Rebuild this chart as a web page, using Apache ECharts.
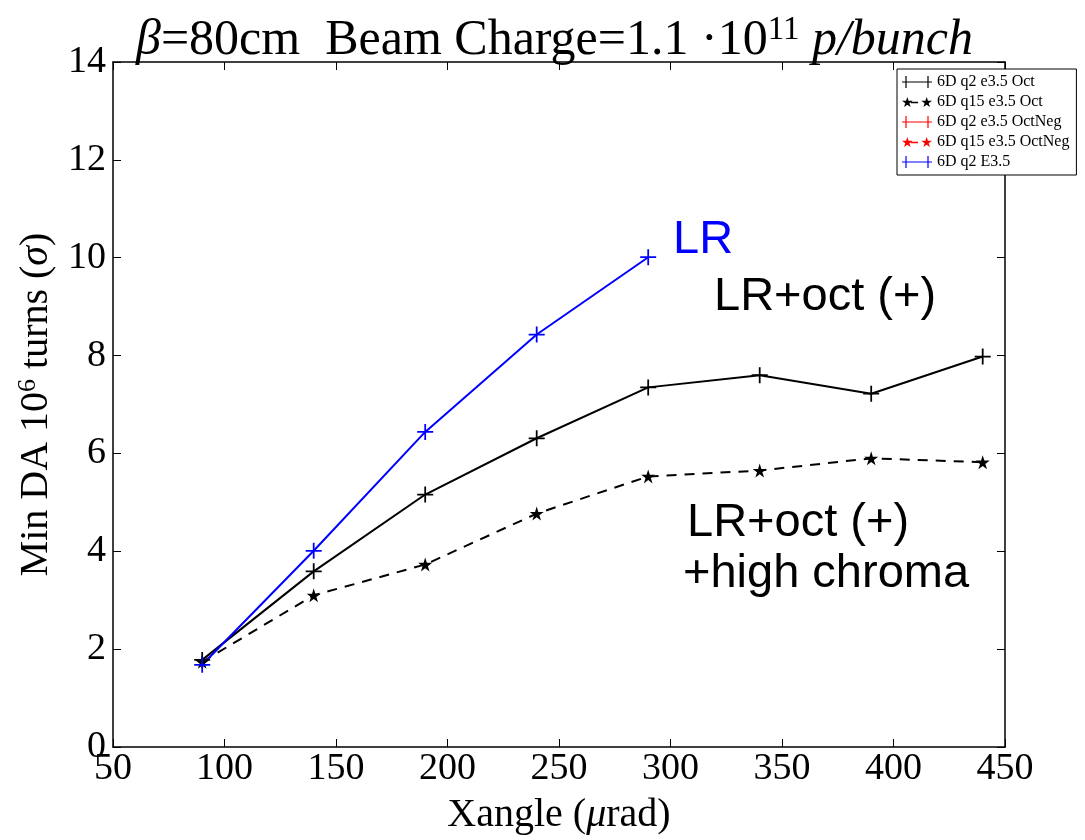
<!DOCTYPE html>
<html>
<head>
<meta charset="utf-8">
<script src="https://cdn.jsdelivr.net/npm/echarts@6/dist/echarts.min.js"></script>
<style>
  html, body { margin: 0; padding: 0; background: #fff; }
  #chart { width: 1085px; height: 840px; }
</style>
</head>
<body>
<div id="chart"></div>
<script>
// data
const xangle = [90, 140, 190, 240, 290, 340, 390, 440]
const octQ2 = [1.78, 3.59, 5.16, 6.31, 7.35, 7.60, 7.22, 7.98]
const octQ15 = [1.74, 3.10, 3.73, 4.77, 5.53, 5.65, 5.90, 5.82]
const octNegQ2 = []
const octNegQ15 = []
const lrXangle = [90, 140, 190, 240, 290]
const lrQ2 = [1.68, 4.01, 6.44, 8.43, 10.01]

const seriesNames = ['6D q2 e3.5 Oct', '6D q15 e3.5 Oct', '6D q2 e3.5 OctNeg', '6D q15 e3.5 OctNeg', '6D q2 E3.5']

const serif = 'Liberation Serif, Times New Roman, serif'
const sans = 'Liberation Sans, Arial, sans-serif'

// marker shapes (matplotlib '+' and '*')
const plus = 'path://M0,4.45h10v1.1h-10z M4.45,0h1.1v10h-1.1z'
const starPts = [[50,0],[61.17,34.63],[97.55,34.55],[68.07,55.87],[79.39,90.45],[50,69],[20.61,90.45],[31.93,55.87],[2.45,34.55],[38.83,34.63]]
const star = 'path://M' + starPts.map(p => p.join(',')).join('L') + 'Z'

// legend icons: marker at both ends of a short line (30 x 12 box)
const starAt = (cx, s) => 'M' + starPts.map(p => [(cx - s / 2 + p[0] * s / 100).toFixed(2), (6 - s / 2 + p[1] * s / 100).toFixed(2)].join(',')).join('L') + 'Z'
const plusIcon = 'path://M0,5.4h30v1.2h-30z M3.4,0h1.2v12h-1.2z M25.4,0h1.2v12h-1.2z'
const starIcon = 'path://' + starAt(5.5, 11) + ' ' + starAt(24.5, 11) + ' M9,5.3h7v1.4h-7z'

const pairs = (xs, ys) => ys.map((v, i) => [xs[i], v])

const chart = echarts.init(document.getElementById('chart'))

const axisCommon = {
  type: 'value',
  splitLine: { show: false },
  axisLine: { show: true, onZero: false, lineStyle: { color: '#000', width: 1.5 } },
  axisTick: { show: true, inside: true, length: 8, lineStyle: { color: '#000', width: 1 } },
}

chart.setOption({
  backgroundColor: '#fff',
  animation: false,
  title: {
    text: '{i|β}=80cm  Beam Charge=1.1 ·10{sup|11} {i|p/bunch}',
    left: 131,
    top: 9,
    textStyle: {
      fontFamily: serif, fontSize: 50, fontWeight: 'normal', color: '#000',
      rich: {
        i: { fontFamily: serif, fontSize: 50, fontStyle: 'italic', color: '#000' },
        sup: { fontFamily: serif, fontSize: 33, color: '#000', verticalAlign: 'top', padding: [0, 0, 20, 0] },
      },
    },
  },
  grid: { left: 113, right: 80, top: 62, bottom: 87 },
  legend: {
    orient: 'vertical',
    left: 897,
    top: 69,
    padding: [5, 7, 5, 5],
    itemWidth: 30,
    itemHeight: 12,
    itemGap: 4,
    backgroundColor: '#fff',
    borderColor: '#000',
    borderWidth: 1,
    borderRadius: 0,
    textStyle: { fontFamily: serif, fontSize: 16, color: '#000' },
    data: [
      { name: seriesNames[0], icon: plusIcon },
      { name: seriesNames[1], icon: starIcon },
      { name: seriesNames[2], icon: plusIcon },
      { name: seriesNames[3], icon: starIcon },
      { name: seriesNames[4], icon: plusIcon },
    ],
  },
  xAxis: [
    {
      ...axisCommon,
      min: 50, max: 450, interval: 50,
      position: 'bottom',
      axisLabel: { color: '#000', fontFamily: serif, fontSize: 38, margin: 3 },
      name: 'Xangle ({i|μ}rad)',
      nameLocation: 'middle',
      nameGap: 48,
      nameTextStyle: {
        fontFamily: serif, fontSize: 40, color: '#000',
        rich: { i: { fontFamily: serif, fontSize: 40, fontStyle: 'italic', color: '#000' } },
      },
    },
    {
      ...axisCommon,
      min: 50, max: 450, interval: 50,
      position: 'top',
      axisLabel: { show: false },
    },
  ],
  yAxis: [
    {
      ...axisCommon,
      min: 0, max: 14, interval: 2,
      position: 'left',
      axisLabel: { color: '#000', fontFamily: serif, fontSize: 38, margin: 7 },
      name: '{n|Min DA 10}{s|6}{n| turns (}{i|σ}{n|)}',
      nameLocation: 'middle',
      nameGap: 56,
      nameTextStyle: {
        fontFamily: serif, fontSize: 40, color: '#000',
        rich: {
          n: { fontFamily: serif, fontSize: 40, color: '#000' },
          s: { fontFamily: serif, fontSize: 26, color: '#000', verticalAlign: 'top', padding: [0, 0, 16, 0] },
          i: { fontFamily: serif, fontSize: 40, fontStyle: 'italic', color: '#000' },
        },
      },
    },
    {
      ...axisCommon,
      min: 0, max: 14, interval: 2,
      position: 'right',
      axisLabel: { show: false },
    },
  ],
  series: [
    {
      name: seriesNames[0], type: 'line', data: pairs(xangle, octQ2),
      symbol: plus, symbolSize: 16,
      itemStyle: { color: '#000' },
      lineStyle: { color: '#000', width: 2 },
    },
    {
      name: seriesNames[1], type: 'line', data: pairs(xangle, octQ15),
      symbol: star, symbolSize: 14,
      itemStyle: { color: '#000' },
      lineStyle: { color: '#000', width: 2, type: [10, 8] },
    },
    {
      name: seriesNames[2], type: 'line', data: pairs(xangle, octNegQ2),
      symbol: plus, symbolSize: 16,
      itemStyle: { color: '#ff0000' },
      lineStyle: { color: '#ff0000', width: 2 },
    },
    {
      name: seriesNames[3], type: 'line', data: pairs(xangle, octNegQ15),
      symbol: star, symbolSize: 14,
      itemStyle: { color: '#ff0000' },
      lineStyle: { color: '#ff0000', width: 2, type: [10, 8] },
    },
    {
      name: seriesNames[4], type: 'line', data: pairs(lrXangle, lrQ2),
      symbol: plus, symbolSize: 16,
      itemStyle: { color: '#0000ff' },
      lineStyle: { color: '#0000ff', width: 2 },
    },
  ],
  graphic: [
    { type: 'text', left: 673, top: 217, style: { text: 'LR', font: '47px ' + sans, fill: '#0000ff' } },
    { type: 'text', left: 714, top: 274, style: { text: 'LR+oct (+)', font: '47px ' + sans, fill: '#000' } },
    { type: 'text', left: 687, top: 500, style: { text: 'LR+oct (+)', font: '47px ' + sans, fill: '#000' } },
    { type: 'text', left: 683, top: 551, style: { text: '+high chroma', font: '47px ' + sans, fill: '#000' } },
  ],
})

window.addEventListener('resize', function () {
  chart && chart.resize()
})
</script>
</body>
</html>
